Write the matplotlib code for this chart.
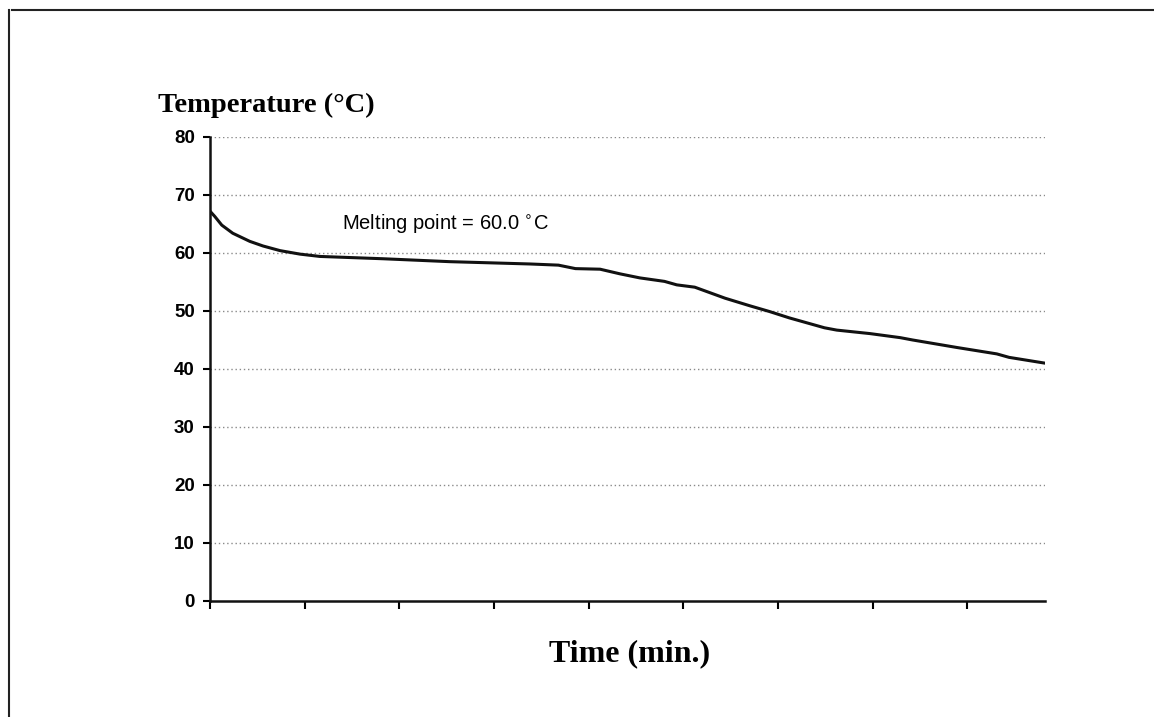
import matplotlib.pyplot as plt
from matplotlib.lines import Line2D

# time in tick units (x axis has unlabeled ticks), temperature in degC
time = [0.0, 0.05, 0.124, 0.24, 0.42, 0.56, 0.74, 0.95, 1.16, 1.83, 2.53,
        3.38, 3.68, 3.86, 4.12, 4.33, 4.54, 4.80, 4.93, 5.12, 5.44, 5.70,
        5.91, 6.12, 6.49, 6.62, 6.97, 7.29, 7.42, 7.89, 8.31, 8.44, 8.82]
temp = [67.2, 66.3, 64.8, 63.4, 62.0, 61.2, 60.4, 59.8, 59.4, 59.0, 58.5,
        58.1, 57.9, 57.3, 57.2, 56.4, 55.7, 55.1, 54.5, 54.1, 52.2, 50.9,
        49.9, 48.8, 47.1, 46.7, 46.1, 45.4, 45.0, 43.7, 42.6, 42.0, 41.0]
y_ticks = [0, 10, 20, 30, 40, 50, 60, 70, 80]
x_ticks = [0, 1, 2, 3, 4, 5, 6, 7, 8]

fig = plt.figure(figsize=(11.54, 7.17), dpi=100)
ax = fig.add_axes([0.182, 0.1618, 0.7236, 0.6472])

ax.plot(time, temp, color="#111111", lw=2.2, solid_joinstyle="round")
ax.set_xlim(0, 8.82)
ax.set_ylim(0, 80)

ax.set_yticks(y_ticks)
ax.set_xticks(x_ticks)
ax.set_xticklabels([])
ax.set_yticklabels([str(v) for v in y_ticks], fontfamily="Liberation Sans",
                   fontweight="bold", fontsize=13.5)
ax.tick_params(axis="y", direction="out", length=5, width=1.5, pad=6)
ax.tick_params(axis="x", direction="out", length=6, width=1.5)

for s in ["top", "right"]:
    ax.spines[s].set_visible(False)
for s in ["left", "bottom"]:
    ax.spines[s].set_linewidth(1.8)
    ax.spines[s].set_color("#111111")

for v in y_ticks[1:]:
    ax.axhline(v, color="#8a8a8a", lw=1.0, ls=(0, (1, 2)), zorder=0)

ax.text(2.49, 65.0, "Melting point = 60.0 $^{\\circ}$C", ha="center", va="center",
        fontfamily="Liberation Sans", fontsize=14.5)

fig.text(158 / 1154, 1 - 112 / 717, "Temperature (°C)", ha="left", va="baseline",
         fontfamily="Liberation Serif", fontweight="bold", fontsize=20.5)
fig.text(630 / 1154, 1 - 661 / 717, "Time (min.)", ha="center", va="baseline",
         fontfamily="Liberation Serif", fontweight="bold", fontsize=23)

# scanned page frame
fig.add_artist(Line2D([12 / 1154, 1], [1 - 10 / 717, 1 - 10 / 717],
                      color="#222222", lw=1.5))
fig.add_artist(Line2D([9 / 1154, 9 / 1154], [0, 1 - 10 / 717],
                      color="#222222", lw=1.5))

fig.savefig("out.png", dpi=100)
